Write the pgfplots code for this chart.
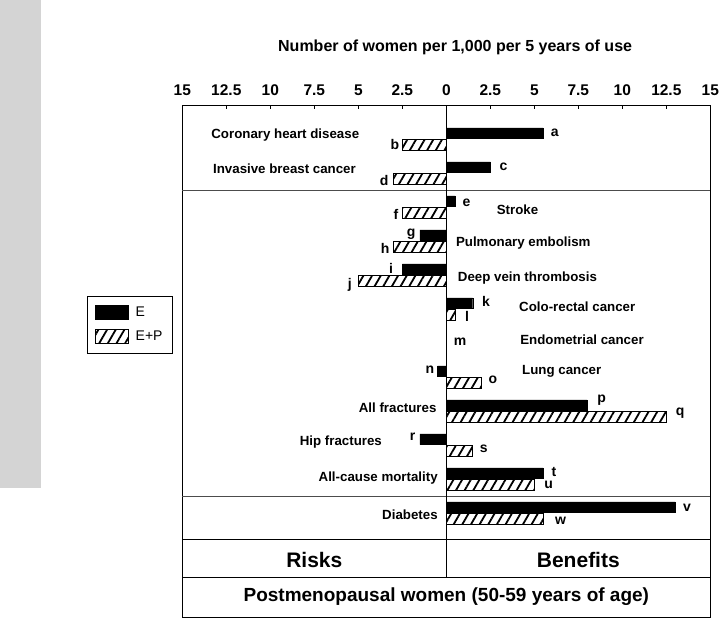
\documentclass[border=0pt]{standalone}
\usepackage{pgfplots}
\pgfplotsset{compat=1.18}
\usepackage{fontspec}
\setmainfont{Liberation Sans}
\usetikzlibrary{patterns.meta}
\definecolor{band}{RGB}{212,212,212}
\newcommand{\catfont}{\bfseries\fontsize{13.3}{15}\selectfont}
\newcommand{\letfont}{\bfseries\fontsize{14}{15}\selectfont}
\tikzset{hatch/.style={pattern={Lines[angle=60,distance=7.5pt,line width=1.8pt]},pattern color=black}}
\pgfplotsset{boxlegend/.style={legend image code/.code={\draw[##1] (0pt,-7pt) rectangle (33pt,7pt);}}}

\begin{document}
\begin{tikzpicture}
\begin{axis}[
  width=528pt, height=512pt, scale only axis,
  xmin=-15, xmax=15, ymin=-15.06, ymax=0,
  clip=false,
  axis line style={line width=1pt},
  xtick={-15,-12.5,...,15},
  xticklabels={15,12.5,10,7.5,5,2.5,0,2.5,5,7.5,10,12.5,15},
  xtick pos=upper, xticklabel pos=upper,
  tick align=inside, major tick length=4pt,
  tick style={line width=0.8pt, black},
  ytick=\empty,
  xticklabel style={font=\bfseries\fontsize{15.5}{16}\selectfont, yshift=6pt},
  legend cell align=left,
  legend style={at={(-0.1,0.571)}, anchor=center, draw=black, line width=0.8pt,
    font=\fontsize{14}{16}\selectfont, inner xsep=7.5pt, inner ysep=9pt, row sep=9pt,
    /tikz/every odd column/.append style={column sep=5pt}},
]
% E (top bar of each pair)
\addplot[xbar, bar shift=0pt, bar width=0.32, fill=black, draw=black, boxlegend]
  coordinates {(5.5,-0.83) (2.5,-1.83) (0.5,-2.83) (-1.5,-3.83) (-2.5,-4.83) (1.5,-5.83)
    (0,-6.83) (-0.5,-7.83) (8,-8.83) (-1.5,-9.83) (5.5,-10.83) (13,-11.83)};
\addlegendentry{E}
% E+P (bottom bar of each pair)
\addplot[xbar, bar shift=0pt, bar width=0.32, draw=black, line width=1.2pt, hatch, boxlegend]
  coordinates {(-2.5,-1.17) (-3,-2.17) (-2.5,-3.17) (-3,-4.17) (-5,-5.17) (0.5,-6.17)
    (2,-8.17) (12.5,-9.17) (1.5,-10.17) (5,-11.17) (5.5,-12.17)};
\addlegendentry{E+P}

% frame lines
\draw[line width=1pt, black!70] (axis cs:-15,-2.5) -- (axis cs:15,-2.5);
\draw[line width=1pt, black!70] (axis cs:-15,-11.5) -- (axis cs:15,-11.5);
\draw[line width=1pt] (axis cs:-15,-12.79) -- (axis cs:15,-12.79);
\draw[line width=1pt] (axis cs:-15,-13.91) -- (axis cs:15,-13.91);
\draw[line width=1pt] (axis cs:0,0) -- (axis cs:0,-13.91);

% grey band and page extent
\fill[band] (axis cs:-25.36,3.09) rectangle (axis cs:-23.03,-11.26);
\path (axis cs:-25.36,3.09) (axis cs:15.72,-15.15);

% titles
\node[font=\bfseries\fontsize{16}{18}\selectfont] at (axis cs:0.5,1.71) {Number of women per 1,000 per 5 years of use};
\node[font=\bfseries\fontsize{21}{23}\selectfont] at (axis cs:-7.5,-13.38) {Risks};
\node[font=\bfseries\fontsize{21}{23}\selectfont] at (axis cs:7.5,-13.38) {Benefits};
\node[font=\bfseries\fontsize{19}{21}\selectfont] at (axis cs:0,-14.47) {Postmenopausal women (50-59 years of age)};

% category labels
\begin{scope}[every node/.style={font=\catfont, inner sep=0pt}]
\node[anchor=east] at (axis cs:-4.94,-0.88) {Coronary heart disease};
\node[anchor=east] at (axis cs:-5.13,-1.88) {Invasive breast cancer};
\node[anchor=west] at (axis cs:2.86,-3.09) {Stroke};
\node[anchor=west] at (axis cs:0.54,-4.06) {Pulmonary embolism};
\node[anchor=west] at (axis cs:0.65,-5.10) {Deep vein thrombosis};
\node[anchor=west] at (axis cs:4.13,-5.94) {Colo-rectal cancer};
\node[anchor=west] at (axis cs:4.19,-6.91) {Endometrial cancer};
\node[anchor=west] at (axis cs:4.30,-7.82) {Lung cancer};
\node[anchor=east] at (axis cs:-0.55,-8.91) {All fractures};
\node[anchor=east] at (axis cs:-3.65,-9.91) {Hip fractures};
\node[anchor=east] at (axis cs:-0.48,-10.97) {All-cause mortality};
\node[anchor=east] at (axis cs:-0.48,-12.06) {Diabetes};
\end{scope}
% bar letters
\begin{scope}[every node/.style={font=\letfont, inner sep=0pt}]
\node at (axis cs:6.16,-0.81) {a};
\node at (axis cs:-2.92,-1.16) {b};
\node at (axis cs:3.25,-1.82) {c};
\node at (axis cs:-3.54,-2.21) {d};
\node at (axis cs:1.15,-2.87) {e};
\node at (axis cs:-2.86,-3.21) {f};
\node at (axis cs:-2.0,-3.81) {g};
\node at (axis cs:-3.48,-4.21) {h};
\node at (axis cs:-3.14,-4.82) {i};
\node at (axis cs:-5.48,-5.29) {j};
\node at (axis cs:2.26,-5.79) {k};
\node at (axis cs:1.18,-6.21) {l};
\node at (axis cs:0.78,-6.97) {m};
\node at (axis cs:-0.93,-7.79) {n};
\node at (axis cs:2.65,-8.09) {o};
\node at (axis cs:8.82,-8.68) {p};
\node at (axis cs:13.28,-9.06) {q};
\node at (axis cs:-1.92,-9.76) {r};
\node at (axis cs:2.13,-10.12) {s};
\node at (axis cs:6.12,-10.78) {t};
\node at (axis cs:5.81,-11.17) {u};
\node at (axis cs:13.68,-11.85) {v};
\node at (axis cs:6.49,-12.24) {w};
\end{scope}
\end{axis}
\end{tikzpicture}
\end{document}
